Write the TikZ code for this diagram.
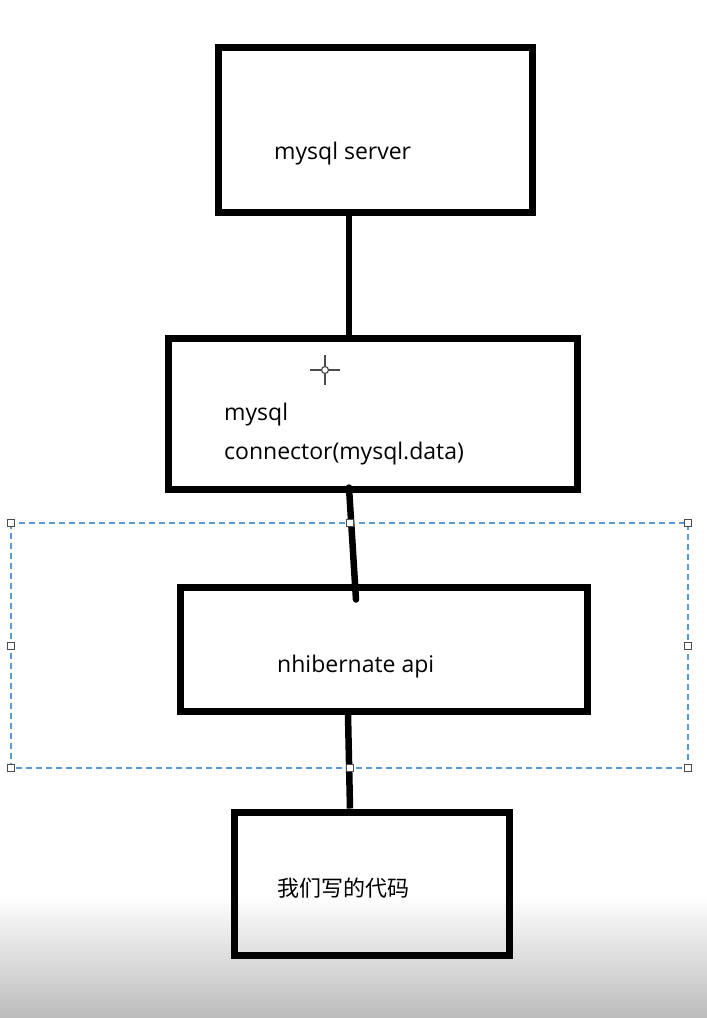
\documentclass[tikz,border=0pt]{standalone}
\usepackage{fontspec}
\setmainfont{Open Sans}
\newfontfamily\cjk{Noto Sans CJK SC}
\begin{document}
\begin{tikzpicture}[
  x=1pt, y=-1pt,
  every node/.style={font=\fontsize{23}{39}\selectfont, align=left, inner sep=0pt},
  blk/.style={rectangle, draw=black, line width=7pt},
  wire/.style={draw=black, line width=6.5pt, line cap=round},
  sel/.style={draw={rgb,255:red,91;green,155;blue,213}, line width=1.3pt, dash pattern=on 6pt off 4pt},
  handle/.style={rectangle, draw=black!70, fill=white, line width=1.3pt, minimum size=7pt}
]
\useasboundingbox (0,0) rectangle (707,1018);
\shade[top color=white, bottom color={rgb,255:red,188;green,188;blue,188}] (0,895) rectangle (707,1018);

\node[blk, minimum width=314pt, minimum height=165pt] (srv) at (375.5,130) {};
\node[anchor=west] (srvtxt) at (274,154) {mysql server};
\node[blk, minimum width=409pt, minimum height=151pt] (conn) at (372.5,413.5) {};
\node[anchor=west] (conntxt) at (224,434.5) {mysql\\connector(mysql.data)};
\node[blk, minimum width=407pt, minimum height=124pt] (api) at (383.5,649) {};
\node[anchor=west] (apitxt) at (277,667) {nhibernate api};
\node[blk, minimum width=275pt, minimum height=143pt] (code) at (371.5,883.5) {};
\node[anchor=west, font=\fontsize{22}{26}\selectfont] (codetxt) at (277,888) {\cjk 我们写的代码};

\draw[wire] ([xshift=-26.5pt]srv.south) -- ([xshift=-23.5pt]conn.north);
\draw[wire] ([xshift=-23.5pt,yshift=5pt]conn.south) -- ([xshift=-27.5pt,yshift=-16pt]api.north);
\draw[wire, line cap=butt] ([xshift=-35.5pt]api.south) -- ([xshift=-21.5pt]code.north);

% selection frame
\draw[sel] (11,523) rectangle (688,768);
\foreach \hx/\hy in {11/523, 350/523, 688/523, 11/646, 688/646, 11/768, 350/768, 688/768}
  \node[handle] at (\hx,\hy) {};

% cursor
\draw[black!70, line width=1.5pt] (310,370) -- (321,370) (329,370) -- (340,370)
  (325,355) -- (325,366) (325,374) -- (325,385);
\draw[black!70, line width=1.2pt] (325,370) circle (3.5);
\end{tikzpicture}
\end{document}
